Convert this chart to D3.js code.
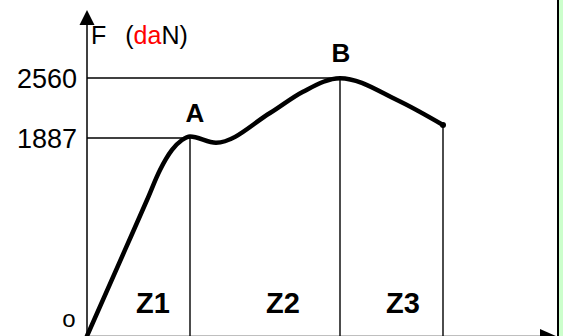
<!DOCTYPE html>
<html>
<head>
<meta charset="utf-8">
<script src="https://cdn.jsdelivr.net/npm/d3@7"></script>
<style>
  html, body { margin: 0; padding: 0; background: #fff; }
  svg { display: block; font-family: "Liberation Sans", Arial, sans-serif; }
</style>
</head>
<body>
<div id="chart"></div>
<script>
// Force-deformation curve (arbitrary deformation units, force in daN).
const curveX = [0, 3.8, 6.0, 7.3, 8.5, 9.5, 10.3, 12.9, 18.3, 21.6, 25.3, 31.0, 35.6];
const curveF = [0, 820, 1296, 1582, 1773, 1868, 1905, 1842, 2167, 2406, 2558, 2313, 2033];

// Key points: A (yield), B (max), end of test.
const keyNames = ["A", "B", "end"];
const keyX = [10.3, 25.3, 35.6];
const keyF = [1887, 2560, 2033];

// Tick labels on the force axis.
const yTicks = [1887, 2560];

// Zones and where their labels sit.
const zoneNames = ["Z1", "Z2", "Z3"];
const zoneX = [6.6, 19.6, 31.6];

const width = 563, height = 336;

const svg = d3.select("#chart").append("svg")
  .attr("width", width)
  .attr("height", height);

// The drawing is not to scale, so the force axis is piecewise.
const x = d3.scaleLinear().domain([0, 47]).range([87, 557]);
const y = d3.scaleLinear().domain([0, 1887, 2560]).range([336, 138, 78]);

// Green panel on the right edge.
svg.append("rect")
  .attr("x", 559).attr("y", 0)
  .attr("width", 4).attr("height", height)
  .attr("fill", "#ccffcc");
svg.append("line")
  .attr("x1", 558).attr("x2", 558)
  .attr("y1", 0).attr("y2", height)
  .attr("stroke", "#000").attr("stroke-width", 2);

// Guide lines from the axis to A and B.
svg.selectAll("line.hguide")
  .data(yTicks)
  .enter().append("line")
  .attr("class", "hguide")
  .attr("x1", x(0))
  .attr("x2", (d, i) => x(keyX[i]))
  .attr("y1", d => y(d)).attr("y2", d => y(d))
  .attr("stroke", "#000").attr("stroke-width", 1.4);

// Vertical lines separating the zones.
svg.selectAll("line.vguide")
  .data(keyX)
  .enter().append("line")
  .attr("class", "vguide")
  .attr("x1", d => x(d)).attr("x2", d => x(d))
  .attr("y1", (d, i) => y(keyF[i]))
  .attr("y2", height)
  .attr("stroke", "#000").attr("stroke-width", 1.4);

// Tick labels.
svg.selectAll("text.ytick")
  .data(yTicks)
  .enter().append("text")
  .attr("class", "ytick")
  .attr("x", 77)
  .attr("y", d => y(d) + 10)
  .attr("text-anchor", "end")
  .attr("font-size", 27)
  .text(d => d);

// Axes.
svg.append("line")
  .attr("x1", x(0)).attr("x2", x(0))
  .attr("y1", 22).attr("y2", height)
  .attr("stroke", "#000").attr("stroke-width", 1.5);
svg.append("path")
  .attr("d", `M${x(0)},10 L${x(0) - 7.5},25 L${x(0) + 7.5},25 Z`)
  .attr("fill", "#000");

svg.append("line")
  .attr("x1", x(0)).attr("x2", 545)
  .attr("y1", 336.3).attr("y2", 336.3)
  .attr("stroke", "#000").attr("stroke-width", 1.2);
svg.append("path")
  .attr("d", `M540,329 L557,336.5 L540,344 Z`)
  .attr("fill", "#000");

// Axis title.
const title = svg.append("text")
  .attr("x", 91).attr("y", 44)
  .attr("font-size", 25);
title.append("tspan").text("F");
title.append("tspan").attr("dx", 19).text("(");
title.append("tspan").attr("fill", "#ff0000").text("da");
title.append("tspan").text("N)");

svg.append("text")
  .attr("x", 69).attr("y", 327)
  .attr("text-anchor", "middle")
  .attr("font-size", 24)
  .text("o");

// The curve.
const line = d3.line()
  .x(d => x(d[0]))
  .y(d => y(d[1]))
  .curve(d3.curveMonotoneX);

svg.append("path")
  .datum(d3.zip(curveX, curveF))
  .attr("d", line)
  .attr("fill", "none")
  .attr("stroke", "#000")
  .attr("stroke-width", 4.5)
  .attr("stroke-linecap", "round");

svg.append("circle")
  .attr("cx", x(keyX[2])).attr("cy", y(keyF[2]))
  .attr("r", 3).attr("fill", "#000");

// Point labels.
svg.selectAll("text.key")
  .data(keyNames.slice(0, 2))
  .enter().append("text")
  .attr("class", "key")
  .attr("x", (d, i) => x(keyX[i]) + (i === 0 ? 5 : 1))
  .attr("y", (d, i) => y(keyF[i]) - 16)
  .attr("text-anchor", "middle")
  .attr("font-size", 26)
  .attr("font-weight", "bold")
  .text(d => d);

// Zone labels.
svg.selectAll("text.zone")
  .data(zoneNames)
  .enter().append("text")
  .attr("class", "zone")
  .attr("x", (d, i) => x(zoneX[i]))
  .attr("y", 313)
  .attr("text-anchor", "middle")
  .attr("font-size", 29)
  .attr("font-weight", "bold")
  .text(d => d);
</script>
</body>
</html>
